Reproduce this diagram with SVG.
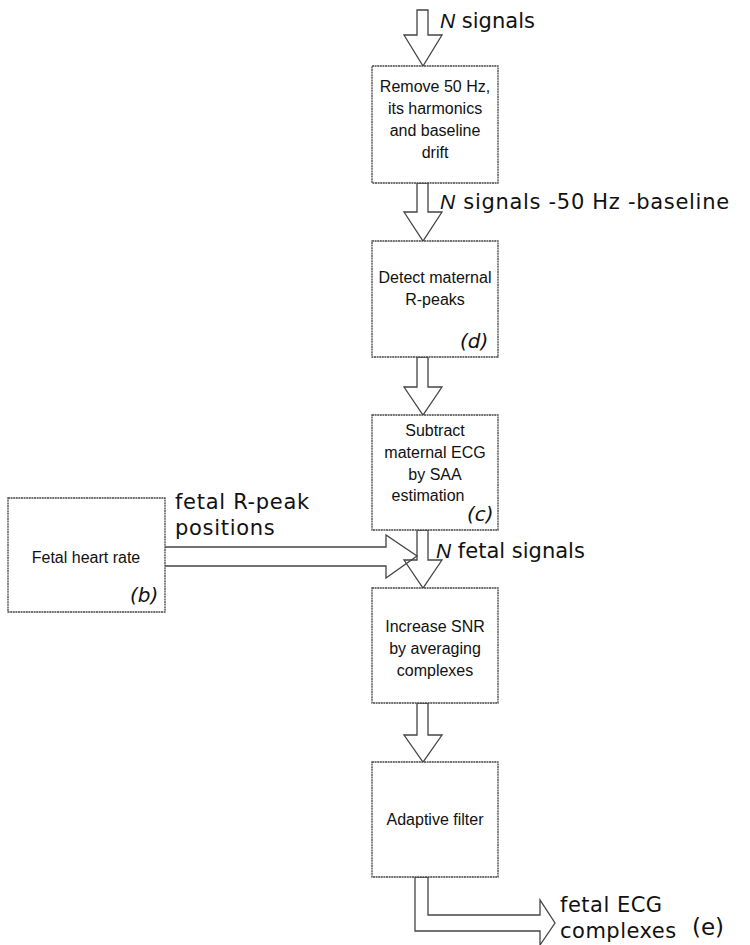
<svg xmlns="http://www.w3.org/2000/svg" width="750" height="945" viewBox="0 0 750 945">
<style>
.box{fill:#fff;stroke:#444;stroke-width:1.3;stroke-dasharray:2 0.6}
.arr{fill:#fff;stroke:#444;stroke-width:1.3;stroke-linejoin:miter}
.line{fill:none;stroke:#444;stroke-width:1.3}
.bt{font-family:"Liberation Sans",Arial,sans-serif;font-size:16px;fill:#111;text-anchor:middle}
.lab{font-family:"DejaVu Sans",Verdana,sans-serif;font-size:21px;fill:#111}
.sp{letter-spacing:0.7px}
.it{font-family:"Liberation Sans",Arial,sans-serif;font-style:italic}
.tag{font-family:"DejaVu Sans",Verdana,sans-serif;font-style:italic;font-size:20px;fill:#111}
</style>
<rect width="750" height="945" fill="#fff"/>
<g id="connectors">
<polygon class="arr" points="417,10 428,10 428,35 442,35 423,66 404,35 417,35"/>
<polygon class="arr" points="417,183 428,183 428,212 442,212 423,241 404,212 417,212"/>
<polygon class="arr" points="417,357 428,357 428,387 442,387 423,415 404,387 417,387"/>
<polygon class="arr" points="417,530 428,530 428,560 442,560 423,588 404,560 417,560"/>
<polygon class="arr" points="417,703 428,703 428,735 442,735 423,762 404,735 417,735"/>
<polyline class="line" points="165,547 386,547 386,535 417,556 386,578 386,566 165,566"/>
<polygon class="arr" points="415,877 428,877 428,915 540,915 540,900 555,923 540,945 540,931 415,931"/>
<text class="lab" x="440" y="28"><tspan class="it">N</tspan> signals</text>
<text class="lab sp" x="440" y="209"><tspan class="it">N</tspan> signals -50 Hz -baseline</text>
<text class="lab" x="436" y="558"><tspan class="it">N</tspan> fetal signals</text>
<text class="lab sp" x="175" y="509">fetal R-peak</text>
<text class="lab sp" x="175" y="535">positions</text>
<text class="lab" x="560" y="912" style="letter-spacing:0.5px">fetal ECG</text>
<text class="lab" x="560" y="938" style="letter-spacing:0.5px">complexes</text>
<text class="lab" x="692" y="935" style="font-size:23px">(e)</text>
</g>
<g id="remove">
<rect class="box" x="372" y="66" width="126" height="117"/>
<text class="bt" x="435" y="92">Remove 50 Hz,</text>
<text class="bt" x="435" y="114">its harmonics</text>
<text class="bt" x="435" y="136">and baseline</text>
<text class="bt" x="435" y="158">drift</text>
</g>
<g id="detect">
<rect class="box" x="372" y="241" width="126" height="116"/>
<text class="bt" x="435" y="283">Detect maternal</text>
<text class="bt" x="435" y="305">R-peaks</text>
<text class="tag" x="460" y="348">(d)</text>
</g>
<g id="subtract">
<rect class="box" x="372" y="415" width="126" height="115"/>
<text class="bt" x="435" y="436">Subtract</text>
<text class="bt" x="435" y="458">maternal ECG</text>
<text class="bt" x="435" y="480">by SAA</text>
<text class="bt" x="428" y="501">estimation</text>
<text class="tag" x="467" y="521">(c)</text>
</g>
<g id="fetalhr">
<rect class="box" x="8" y="498" width="157" height="114"/>
<text class="bt" x="86" y="563">Fetal heart rate</text>
<text class="tag" x="130" y="602">(b)</text>
</g>
<g id="snr">
<rect class="box" x="372" y="588" width="126" height="115"/>
<text class="bt" x="435" y="632">Increase SNR</text>
<text class="bt" x="435" y="654">by averaging</text>
<text class="bt" x="435" y="676">complexes</text>
</g>
<g id="adaptive">
<rect class="box" x="372" y="762" width="126" height="115"/>
<text class="bt" x="435" y="825">Adaptive filter</text>
</g>
</svg>
